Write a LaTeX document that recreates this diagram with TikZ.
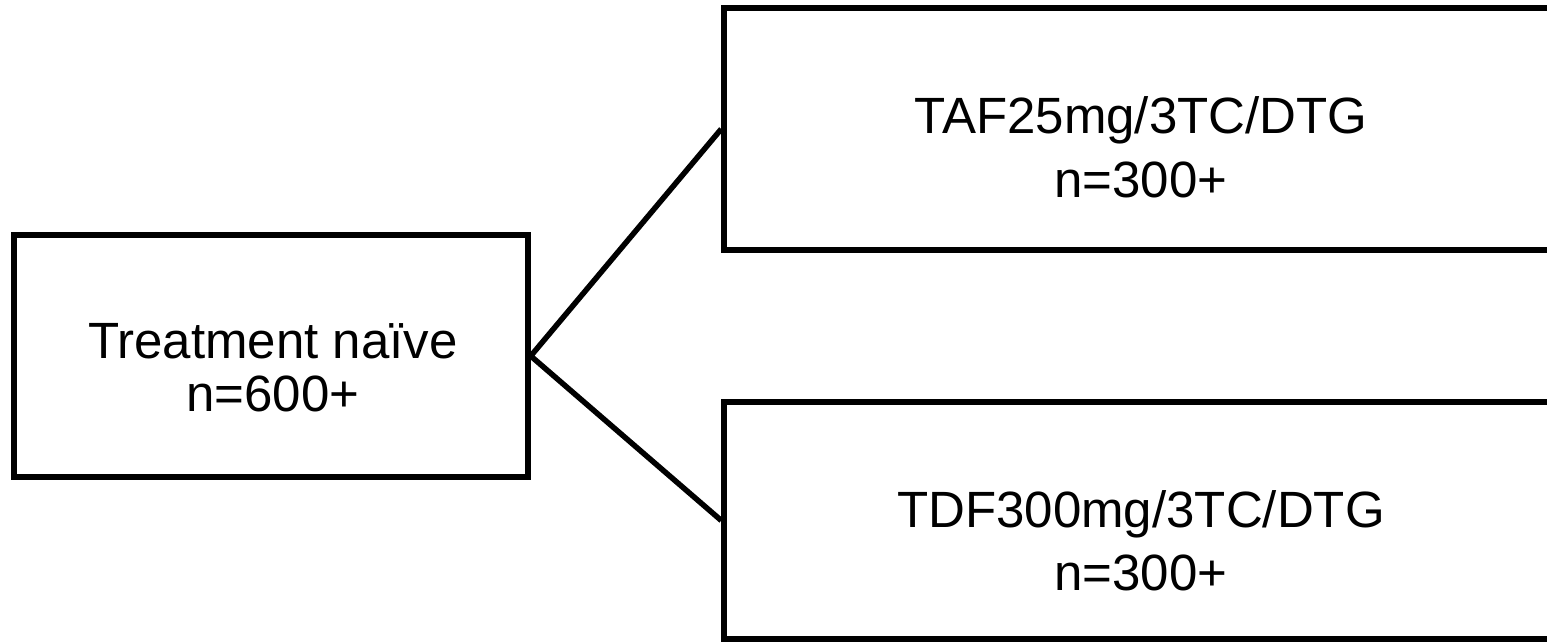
\documentclass[tikz,border=0pt]{standalone}
\usepackage{fontspec}
\setmainfont{Liberation Sans}
\begin{document}
\begin{tikzpicture}[x=1pt,y=-1pt,
  box/.style={draw=black,line width=5.5pt,rectangle,inner sep=0pt},
  txt/.style={align=center,inner sep=0pt},
  link/.style={draw=black,line width=5.5pt}]
\clip (0,0) rectangle (1547,642);
\fill[white] (0,0) rectangle (1547,642);
\node[box,minimum width=514pt,minimum height=242pt] (naive) at (271,356) {};
\node[box,minimum width=834pt,minimum height=242pt] (taf) at (1141,129) {};
\node[box,minimum width=834pt,minimum height=237pt] (tdf) at (1141,520.5) {};
\node[txt,font=\fontsize{51}{53}\selectfont] (tnaive) at (273,367.5) {Treatment naïve\\n=600+};
\node[txt,font=\fontsize{51}{64}\selectfont] (ttaf) at (1141,147) {TAF25mg/3TC/DTG\\n=300+};
\node[txt,font=\fontsize{51}{63}\selectfont] (ttdf) at (1141,540.5) {TDF300mg/3TC/DTG\\n=300+};
\draw[link] (naive.east) -- (taf.west);
\draw[link] (naive.east) -- (tdf.west);
\end{tikzpicture}
\end{document}
